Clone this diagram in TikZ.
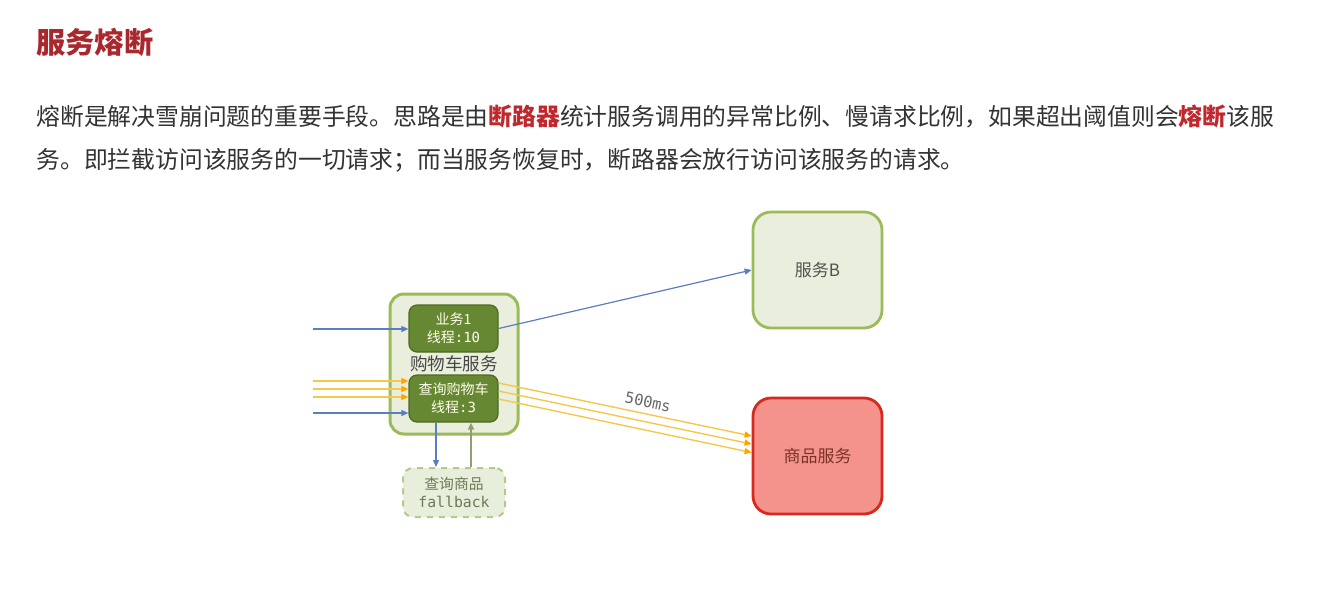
\documentclass[tikz,border=0pt]{standalone}
\usepackage{fontspec}
\setmainfont{Noto Sans CJK SC}
\setmonofont{DejaVu Sans Mono}
\usetikzlibrary{positioning, arrows.meta}
\definecolor{titlered}{HTML}{A8282E}
\definecolor{hotred}{HTML}{C0282E}
\definecolor{bodytext}{HTML}{333333}
\definecolor{svcfill}{HTML}{E9EFDC}
\definecolor{svcline}{HTML}{9BBB59}
\definecolor{threadfill}{HTML}{668833}
\definecolor{threadline}{HTML}{4E6A22}
\definecolor{reqblue}{HTML}{5A7EC0}
\definecolor{slowline}{HTML}{F5C84C}
\definecolor{slowtip}{HTML}{FFA500}
\definecolor{downfill}{HTML}{F4938C}
\definecolor{downline}{HTML}{D9281E}
\definecolor{downtext}{HTML}{7A3328}
\definecolor{backline}{HTML}{8FA070}
\definecolor{fbfill}{HTML}{E8EEDC}
\definecolor{fbline}{HTML}{B5C98E}
\definecolor{fbtext}{HTML}{6B7A55}
\tikzset{x=0.5pt, y=-0.5pt, % one unit is one pixel of the screenshot
>={Triangle[length=3.5pt,width=3pt]}, % small filled heads
svc/.style={draw=svcline, fill=svcfill, line width=1.4pt, rounded corners=9pt, minimum width=64.5pt, minimum height=58pt, font=\fontsize{8.5}{10}\selectfont, text=black!68}, % services on the right
cart/.style={draw=svcline, fill=svcfill, line width=1.5pt, rounded corners=7pt, minimum width=64pt, minimum height=70pt}, % the cart service
pool/.style={draw=threadline, fill=threadfill, line width=0.6pt, rounded corners=4pt, minimum width=44.5pt, minimum height=23.5pt, align=center, text=white!92!yellow, font=\fontsize{7}{9}\selectfont}, % thread pools
fb/.style={draw=fbline, fill=fbfill, dashed, line width=1pt, rounded corners=5pt, minimum width=51pt, minimum height=24.5pt, align=center, text=fbtext, font=\fontsize{7.4}{9}\selectfont}, % fallback
req/.style={->, draw=reqblue, line width=0.6pt}, % normal requests
slow/.style={-{Triangle[length=3.5pt,width=3pt,color=slowtip]}, draw=slowline, line width=0.7pt}, % slow requests
}
\begin{document}
\begin{tikzpicture}
  \useasboundingbox[fill=white] (0,0) rectangle (1326,601);

  % heading and text
  \node[anchor=west, inner sep=0, text=titlered, font=\fontsize{14.6}{16}\selectfont\bfseries] (title) at (36,42) {服务熔断};
  \node[anchor=west, inner sep=0, text=bodytext, font=\fontsize{11.9}{14}\selectfont] (line1) at (36,116) {熔断是解决雪崩问题的重要手段。思路是由\textbf{\color{hotred}断路器}统计服务调用的异常比例、慢请求比例，如果超出阈值则会\textbf{\color{hotred}熔断}该服};
  \node[anchor=west, inner sep=0, text=bodytext, font=\fontsize{11.9}{14}\selectfont] (line2) at (36,160) {务。即拦截访问该服务的一切请求；而当服务恢复时，断路器会放行访问该服务的请求。};

  % services
  \node[cart] (cart) at (454,364) {};
  \node[pool] (biz) at (453.5,328.5) {业务1\\线程\texttt{:10}};
  \node[font=\fontsize{8.8}{10}\selectfont, text=black!72] (cartname) at (454,364) {购物车服务};
  \node[pool] (query) at (453.5,398.5) {查询购物车\\线程\texttt{:3}};
  \node[fb] (fallback) at (454,492.5) {查询商品\\\texttt{fallback}};
  \node[svc] (svcb) at (817.5,270) {服务B};
  \node[svc, draw=downline, fill=downfill, text=downtext] (goods) at (817.5,456) {商品服务};

  % incoming requests
  \coordinate (in1) at (313,329);
  \coordinate (in2) at (313,381);
  \coordinate (in3) at (313,389);
  \coordinate (in4) at (313,397);
  \coordinate (in5) at (313,413);
  \draw[req] (in1) -- (in1 -| biz.west);
  \draw[slow] (in2) -- (in2 -| query.west);
  \draw[slow] (in3) -- (in3 -| query.west);
  \draw[slow] (in4) -- (in4 -| query.west);
  \draw[req] (in5) -- (in5 -| query.west);

  % outgoing calls
  \draw[req] (biz.east) -- (svcb.west);
  \draw[slow] ([yshift=7.75pt]query.east) -- ([yshift=10pt]goods.west);
  \draw[slow] ([yshift=3.75pt]query.east) -- ([yshift=6pt]goods.west);
  \draw[slow] ([yshift=-0.25pt]query.east) -- ([yshift=1.75pt]goods.west);
  \node[rotate=-11.7, text=black!60, font=\fontsize{7.7}{9}\ttfamily] (delay) at (648,402) {500ms};

  % fallback
  \draw[req] ([xshift=-8.75pt]query.south) -- ([xshift=-9pt]fallback.north);
  \draw[->, draw=backline, line width=0.8pt] ([xshift=8.5pt]fallback.north) -- ([xshift=8.75pt]query.south);
\end{tikzpicture}
\end{document}
